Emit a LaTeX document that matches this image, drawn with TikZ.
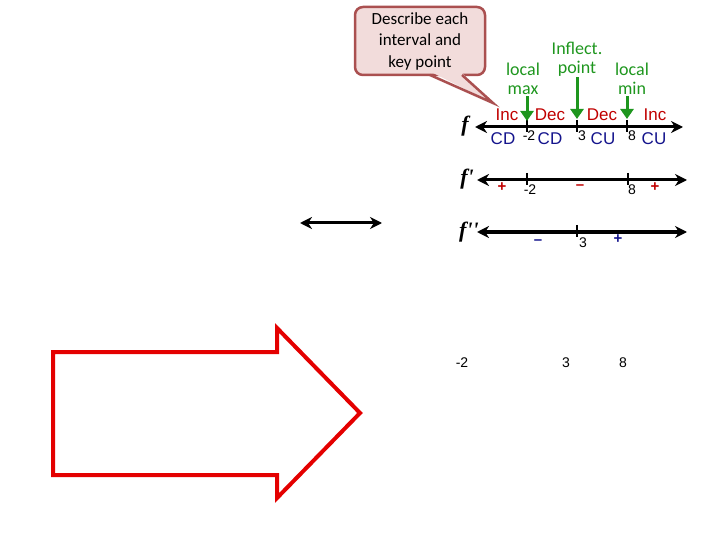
\documentclass[tikz,border=0pt]{standalone}
\usepackage{fontspec}
\setmainfont{Liberation Sans}
\newfontfamily\calibri{Carlito}
\newfontfamily\fserif{Liberation Serif}
\usetikzlibrary{arrows.meta}
\definecolor{incred}{RGB}{192,0,0}
\definecolor{concblue}{RGB}{20,20,140}
\definecolor{keygreen}{RGB}{30,150,30}
\definecolor{callfill}{RGB}{242,220,219}
\definecolor{callline}{RGB}{170,80,80}
\definecolor{bigred}{RGB}{228,0,0}
\tikzset{
  axis/.style={line width=3pt,{Stealth[length=12pt,width=12pt]}-{Stealth[length=12pt,width=12pt]}},
  tick/.style={line width=2.5pt},
  incdec/.style={text=incred,font=\fontsize{17}{20}\selectfont},
  conc/.style={text=concblue,font=\fontsize{17}{20}\selectfont},
  num/.style={font=\fontsize{14}{16}\selectfont},
  sign/.style={font=\bfseries\fontsize{15}{17}\selectfont},
  keypt/.style={text=keygreen,align=center,inner sep=1pt,font=\calibri\fontsize{18}{19}\selectfont},
  keyarrow/.style={draw=keygreen,line width=3pt,-{Triangle[length=10pt,width=13pt]}},
  flab/.style={font=\fserif\bfseries\itshape\fontsize{22}{24}\selectfont}
}
\begin{document}
\begin{tikzpicture}[x=1pt,y=-1pt]
  \useasboundingbox (0,0) rectangle (720,540);

  % callout
  \node[draw=callline,fill=callfill,line width=2.5pt,rounded corners=8pt,
        minimum width=130pt,minimum height=68pt,align=center,inner sep=2pt,
        font=\calibri\fontsize{17}{21.5}\selectfont] (desc) at (420,41)
        {Describe each\\interval and\\key point};
  \coordinate (tip) at (493,103);
  \fill[callfill] (431,72) -- (tip) -- (461,72) -- cycle;
  \draw[callline,line width=2.5pt] (430,75) -- (tip) -- (462,75);

  % f
  \node[flab] (f) at (465,126) {f};
  \draw[axis] (475,127) -- (683,127);
  \foreach \x/\n in {527/fa, 577/fb, 627/fc} {
    \coordinate (\n) at (\x,127);
    \draw[tick] (\x,120) -- (\x,132);
  }
  \foreach \x/\lab in {507/Inc, 550/Dec, 602/Dec, 655/Inc}
    \node[incdec] at (\x,115) {\lab};
  \foreach \x/\lab in {503/CD, 550/CD, 603/CU, 654/CU}
    \node[conc] at (\x,139) {\lab};
  \foreach \x/\lab in {529/-2, 582/3, 632/8}
    \node[num] at (\x,136) {\lab};

  % key points
  \node[keypt] (max) at (523,79) {local\\max};
  \node[keypt] (infl) at (577,59) {Inflect.\\point};
  \node[keypt] (min) at (632,79) {local\\min};
  \draw[keyarrow] (max.south -| fa) -- ([yshift=6pt]fa);
  \draw[keyarrow] (infl.south -| fb) -- ([yshift=8pt]fb);
  \draw[keyarrow] (min.south -| fc) -- ([yshift=8pt]fc);

  % f'
  \node[flab] (fp) at (467,179) {f'};
  \draw[axis] (477,180) -- (687,180);
  \foreach \x in {527,628}
    \draw[tick] (\x,173) -- (\x,185);
  \foreach \x/\lab in {530/-2, 632/8}
    \node[num] at (\x,190) {\lab};
  \foreach \x/\lab in {502/+, 580/--, 655/+}
    \node[sign,text=incred] at (\x,187) {\lab};

  % f''
  \node[flab] (fpp) at (469,232) {f''};
  \draw[axis] (477,232) -- (687,232);
  \draw[tick] (577,225) -- (577,237);
  \node[num] at (583,243) {3};
  \foreach \x/\y/\lab in {538/242/--, 618/239/+}
    \node[sign,text=concblue] at (\x,\y) {\lab};

  % loose double arrow
  \draw[axis] (300,223) -- (382,223);

  % key numbers
  \foreach \x/\lab in {462/-2, 566/3, 623/8}
    \node[num] at (\x,363) {\lab};

  % big arrow
  \draw[bigred,line width=4pt,line join=miter]
    (53,352) -- (277,352) -- (277,328) -- (360,413) -- (277,498) -- (277,475) -- (53,475) -- cycle;
\end{tikzpicture}
\end{document}
